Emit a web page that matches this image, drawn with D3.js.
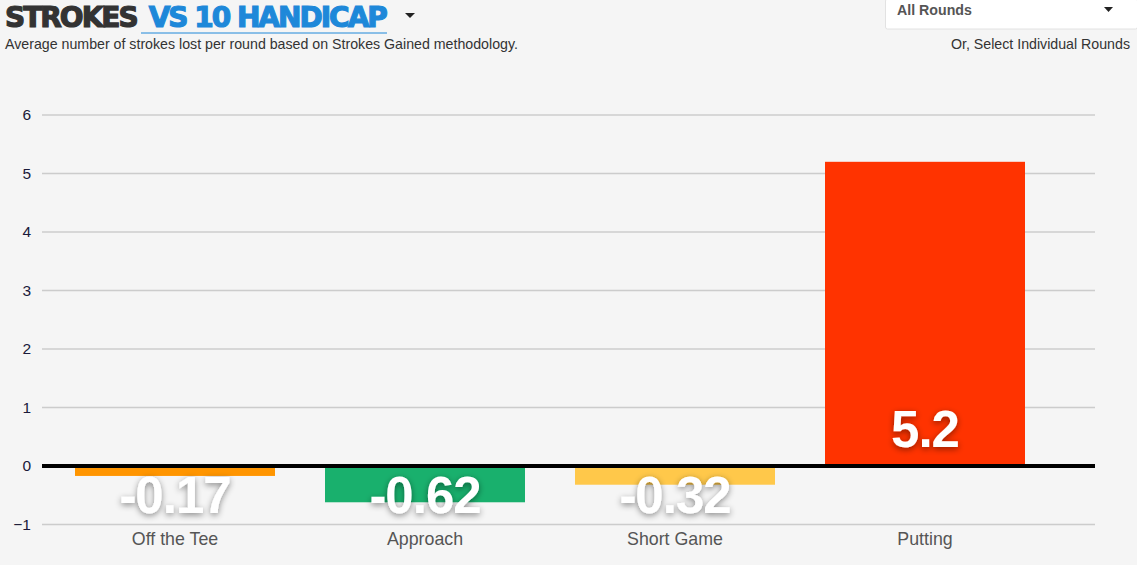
<!DOCTYPE html>
<html>
<head>
<meta charset="utf-8">
<script src="https://cdn.jsdelivr.net/npm/d3@7"></script>
<style>
  body { margin: 0; background: #f5f5f5; font-family: Arial, "Liberation Sans", sans-serif; }
  svg { display: block; }
</style>
</head>
<body>
<svg id="chart" width="1137" height="565"></svg>
<script>
// data
const categories = ["Off the Tee", "Approach", "Short Game", "Putting"];
const strokesLost = [-0.17, -0.62, -0.32, 5.2];
const barColors = ["#ff9500", "#19b06d", "#ffc84a", "#ff3300"];
const yTicks = [-1, 0, 1, 2, 3, 4, 5, 6];

const svg = d3.select("#chart");
const width = 1137, height = 565;

svg.append("rect").attr("width", width).attr("height", height).attr("fill", "#f5f5f5");

// drop shadow for the big value labels
const defs = svg.append("defs");
const f = defs.append("filter").attr("id", "shadow").attr("x", "-20%").attr("y", "-30%").attr("width", "140%").attr("height", "160%");
f.append("feDropShadow").attr("dx", 0).attr("dy", 2).attr("stdDeviation", 3)
  .attr("flood-color", "#000").attr("flood-opacity", 0.45);

// header
const title = svg.append("text").attr("x", 5).attr("y", 27)
  .style("font-family", "'DejaVu Sans', sans-serif").style("font-weight", "bold")
  .style("font-size", "28px");
title.append("tspan").attr("fill", "#333").attr("stroke", "#333").attr("stroke-width", 1.2)
  .style("letter-spacing", "-2px").text("STROKES");
title.append("tspan").attr("fill", "#1e88d9").attr("stroke", "#1e88d9").attr("stroke-width", 1.2)
  .attr("dx", 12).style("letter-spacing", "-2px").text("VS 10 HANDICAP");
svg.append("line").attr("x1", 141).attr("x2", 387).attr("y1", 33).attr("y2", 33)
  .attr("stroke", "#1e88d9").attr("stroke-width", 1);
svg.append("path").attr("d", "M405,13 L415,13 L410,18 Z").attr("fill", "#222");

svg.append("text").attr("x", 5).attr("y", 49)
  .style("font-size", "14.2px").attr("fill", "#333")
  .text("Average number of strokes lost per round based on Strokes Gained methodology.");

// dropdown
svg.append("rect").attr("x", 885.5).attr("y", -1).attr("width", 252).attr("height", 30)
  .attr("fill", "#fff").attr("stroke", "#e2e2e2").attr("rx", 2);
svg.append("text").attr("x", 897).attr("y", 15)
  .style("font-size", "14.2px").style("font-weight", "bold").attr("fill", "#555").text("All Rounds");
svg.append("path").attr("d", "M1104,7 L1113,7 L1108.5,12 Z").attr("fill", "#222");
svg.append("text").attr("x", 1130).attr("y", 49).attr("text-anchor", "end")
  .style("font-size", "14.2px").attr("fill", "#333").text("Or, Select Individual Rounds");

// scales
const y = d3.scaleLinear().domain([-1, 6]).range([524.5, 115]);
const x = d3.scaleBand().domain(categories).range([50, 1050]).paddingInner(0.2).paddingOuter(0.1);

// grid lines
svg.append("g").selectAll("line").data(yTicks.filter(d => d !== 0)).join("line")
  .attr("x1", 42).attr("x2", 1095)
  .attr("y1", d => y(d)).attr("y2", d => y(d))
  .attr("stroke", "#cccccc").attr("stroke-width", 1.5);

// y axis labels
const yAxis = svg.append("g").attr("transform", "translate(31,0)")
  .call(d3.axisLeft(y).tickValues(yTicks).tickSize(0).tickPadding(0).tickFormat(d3.format("d")));
yAxis.select(".domain").remove();
yAxis.selectAll("text").style("font-size", "15.5px").style("font-family", "Arial, 'Liberation Sans', sans-serif")
  .attr("fill", "#1a1a3a");

// bars
svg.append("g").selectAll("rect").data(strokesLost).join("rect")
  .attr("x", (d, i) => x(categories[i]))
  .attr("width", x.bandwidth())
  .attr("y", d => d >= 0 ? y(d) : y(0) + 2)
  .attr("height", d => d >= 0 ? y(0) - y(d) - 2 : y(d) - y(0) - 2)
  .attr("fill", (d, i) => barColors[i]);

// zero line
svg.append("line").attr("x1", 42).attr("x2", 1095).attr("y1", y(0)).attr("y2", y(0))
  .attr("stroke", "#000").attr("stroke-width", 4);

// value labels
svg.append("g").selectAll("text").data(strokesLost).join("text")
  .attr("x", (d, i) => x(categories[i]) + x.bandwidth() / 2)
  .attr("y", d => d >= 0 ? y(0) - 19 : y(0) + 47)
  .attr("text-anchor", "middle")
  .style("font-size", "51px").style("font-weight", "bold")
  .style("letter-spacing", "-1px")
  .attr("fill", "#fff").attr("filter", "url(#shadow)")
  .text(d => d);

// category labels
svg.append("g").selectAll("text").data(categories).join("text")
  .attr("x", d => x(d) + x.bandwidth() / 2)
  .attr("y", 545)
  .attr("text-anchor", "middle")
  .style("font-size", "17.8px").attr("fill", "#555")
  .text(d => d);
</script>
</body>
</html>
